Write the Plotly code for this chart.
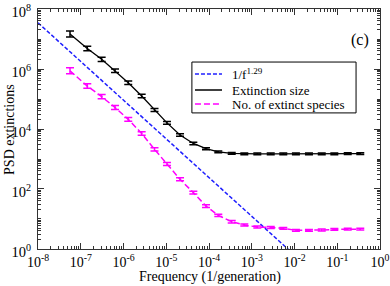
import plotly.graph_objects as go

# ---- data ----
freq = [5.6e-8, 1.42e-7, 3.08e-7, 6.33e-7, 1.29e-6, 2.66e-6, 5.31e-6, 1.04e-5,
        2.10e-5, 4.30e-5, 8.51e-5, 1.65e-4, 3.40e-4, 6.70e-4, 1.35e-3, 2.78e-3,
        5.47e-3, 1.08e-2, 2.18e-2, 4.34e-2, 8.55e-2, 0.176, 0.346]

extinction_size = [1.48e7, 4.8e6, 2.1e6, 8.7e5, 3.5e5, 1.26e5, 4.3e4, 1.6e4,
                   6.3e3, 3.3e3, 2.2e3, 1.74e3, 1.55e3, 1.48e3, 1.48e3, 1.48e3,
                   1.48e3, 1.48e3, 1.48e3, 1.48e3, 1.49e3, 1.50e3, 1.50e3]
extinction_size_err_dec = [0.10, 0.075, 0.07, 0.06, 0.06, 0.055, 0.05, 0.045,
                           0.04, 0.04, 0.035, 0.03, 0.03, 0.03, 0.03, 0.03,
                           0.03, 0.03, 0.03, 0.03, 0.03, 0.03, 0.03]

extinct_species = [8.7e5, 2.7e5, 1.2e5, 5.2e4, 2.1e4, 7.1e3, 2.1e3, 6.8e2,
                   2.1e2, 76, 27, 13.2, 8.1, 6.3, 5.4, 5.2, 4.9, 4.2,
                   4.2, 4.3, 4.5, 4.6, 4.6]
extinct_species_err_dec = [0.10, 0.075, 0.07, 0.065, 0.06, 0.06, 0.055, 0.05,
                           0.05, 0.045, 0.045, 0.04, 0.04, 0.035, 0.035, 0.035,
                           0.03, 0.03, 0.03, 0.03, 0.03, 0.03, 0.03]

fit_freq = [1e-8, 1e-2]
fit_psd = [3.47e7, 0.63]

series_names = ["1/f<sup>1.29</sup>", "Extinction size", "No. of extinct species"]
series_colors = ["#1f1fff", "black", "#ff00ff"]
series_dash = ["4px,2px", "solid", "6px,3px"]

x_tickvals = [1e-8, 1e-7, 1e-6, 1e-5, 1e-4, 1e-3, 1e-2, 1e-1, 1e0]
x_ticktext = ["10<sup>-8</sup>", "10<sup>-7</sup>", "10<sup>-6</sup>", "10<sup>-5</sup>",
              "10<sup>-4</sup>", "10<sup>-3</sup>", "10<sup>-2</sup>", "10<sup>-1</sup>",
              "10<sup>0</sup>"]
y_tickvals = [1e0, 1e2, 1e4, 1e6, 1e8]
y_ticktext = ["10<sup>0</sup>", "10<sup>2</sup>", "10<sup>4</sup>", "10<sup>6</sup>",
              "10<sup>8</sup>"]


def err_up(vals, decs):
    return [v * (10 ** d - 1) for v, d in zip(vals, decs)]


def err_dn(vals, decs):
    return [v * (1 - 10 ** (-d)) for v, d in zip(vals, decs)]


FONT = "Liberation Serif"

fig = go.Figure()
fig.add_trace(go.Scatter(
    x=fit_freq, y=fit_psd, mode="lines", name=series_names[0],
    line=dict(color=series_colors[0], width=1.5, dash=series_dash[0])))
fig.add_trace(go.Scatter(
    x=freq, y=extinction_size, mode="lines", name=series_names[1],
    line=dict(color=series_colors[1], width=1.3),
    error_y=dict(type="data", array=err_up(extinction_size, extinction_size_err_dec),
                 arrayminus=err_dn(extinction_size, extinction_size_err_dec),
                 color="black", thickness=1.5, width=4)))
fig.add_trace(go.Scatter(
    x=freq, y=extinct_species, mode="lines", name=series_names[2],
    line=dict(color=series_colors[2], width=1.5, dash=series_dash[2]),
    error_y=dict(type="data", array=err_up(extinct_species, extinct_species_err_dec),
                 arrayminus=err_dn(extinct_species, extinct_species_err_dec),
                 color="#ff00ff", thickness=1.5, width=4)))

axis_common = dict(
    type="log", showgrid=False, zeroline=False, showline=True, linecolor="#333333",
    linewidth=1, mirror="allticks", ticks="inside", tickcolor="#333333",
    automargin=False, ticklabeloverflow="allow",
)

fig.update_xaxes(**axis_common, range=[-8.0005, 0.0005], tickvals=x_tickvals,
                 ticktext=x_ticktext, ticklen=6, tickangle=0,
                 tickfont=dict(family=FONT, size=14, color="black"),
                 minor=dict(ticks="inside", ticklen=3, dtick="D1", tickcolor="#333333"))
fig.update_yaxes(**axis_common, range=[-0.0005, 8.0005], tickvals=y_tickvals,
                 ticktext=y_ticktext, ticklen=6, ticklabelstandoff=3, ticklabelshift=3,
                 tickfont=dict(family=FONT, size=14.5, color="black"),
                 minor=dict(ticks="inside", ticklen=3, dtick="D1", tickcolor="#333333"))

# axis titles
fig.add_annotation(text="Frequency (1/generation)", x=0.503, y=-0.115, xref="paper",
                   yref="paper", showarrow=False, xanchor="center", yanchor="middle",
                   font=dict(family=FONT, size=14, color="black"))
fig.add_annotation(text="PSD extinctions", x=-0.085, y=0.5, xref="paper", yref="paper",
                   showarrow=False, textangle=-90, xanchor="center", yanchor="middle",
                   font=dict(family=FONT, size=14, color="black"))

fig.add_annotation(text="(c)", x=0.942, y=0.871, xref="paper", yref="paper",
                   showarrow=False, xanchor="center", yanchor="middle",
                   font=dict(family=FONT, size=16, color="black"))

# legend box (drawn manually to match the compact spacing)
fig.add_shape(type="rect", xref="paper", yref="paper", x0=0.450, x1=0.930,
              y0=0.567, y1=0.779, line=dict(color="black", width=1),
              fillcolor="white", layer="above")
legend_rows_y = [0.729, 0.6625, 0.604]
for name, color, dash, ly in zip(series_names, series_colors, series_dash, legend_rows_y):
    fig.add_shape(type="line", xref="paper", yref="paper", x0=0.459, x1=0.538,
                  y0=ly, y1=ly, line=dict(color=color, width=1.5, dash=dash),
                  layer="above")
    fig.add_annotation(text=name, x=0.561, y=ly, xref="paper", yref="paper",
                       showarrow=False, xanchor="left", yanchor="middle",
                       font=dict(family=FONT, size=13, color="black"))

fig.update_layout(
    width=390, height=286, plot_bgcolor="white", paper_bgcolor="white",
    margin=dict(l=38, r=10, t=9, b=37),
    font=dict(family=FONT, color="black"),
    showlegend=False,
)

fig.write_html("out.html", config={"displayModeBar": False},
               post_script="document.body.style.margin='0';document.body.style.padding='0';")
